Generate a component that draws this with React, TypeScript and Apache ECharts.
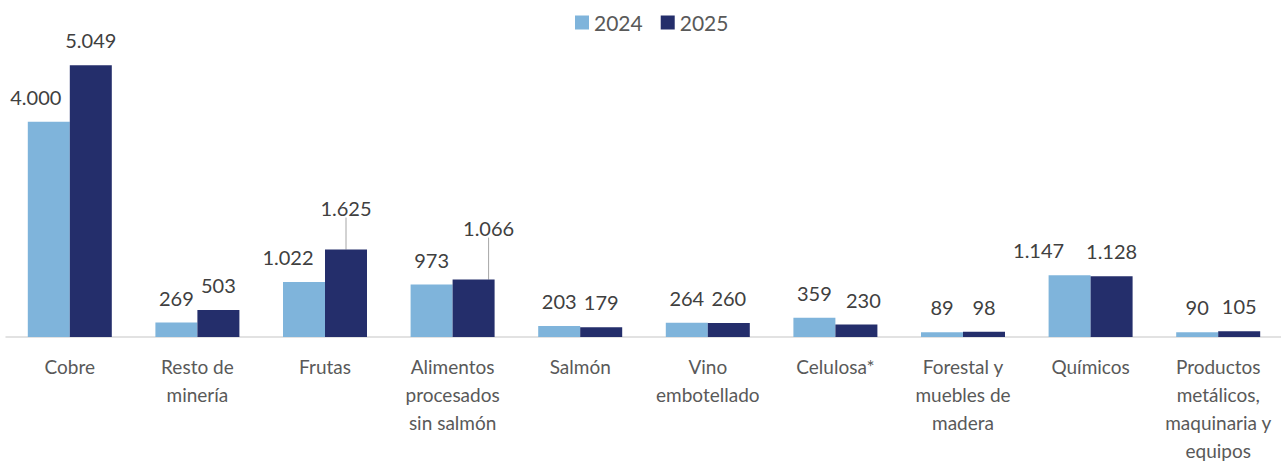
import React, { useEffect, useRef } from "react";
import * as echarts from "echarts";

const categories = [
  "Cobre",
  "Resto de\nminería",
  "Frutas",
  "Alimentos\nprocesados\nsin salmón",
  "Salmón",
  "Vino\nembotellado",
  "Celulosa*",
  "Forestal y\nmuebles de\nmadera",
  "Químicos",
  "Productos\nmetálicos,\nmaquinaria y\nequipos",
];
const values2024 = [4000, 269, 1022, 973, 203, 264, 359, 89, 1147, 90];
const values2025 = [5049, 503, 1625, 1066, 179, 260, 230, 98, 1128, 105];
const seriesNames = ["2024", "2025"];

// label placement tweaks (pixels) per series / category index
const labelShift: Record<number, Record<number, [number, number]>> = {
  0: { 0: [-13, 0], 2: [-16, 0], 8: [-31, 0] },
  1: { 2: [0, -17], 3: [15, -27], 6: [7, 0] },
};
const leaderLines: Record<number, number[]> = { 0: [], 1: [2, 3] };

const fmt = (v: number) => String(v).replace(/\B(?=(\d{3})+(?!\d))/g, ".");

const COLORS = ["#7FB4DB", "#242E6B"];
const FONT = "Lato";

export default function App() {
  const ref = useRef<HTMLDivElement>(null);
  useEffect(() => {
    document.body.style.margin = "0";
    const chart = echarts.init(ref.current!, null, { renderer: "svg" });
    const mk = (idx: number, vals: number[]) => ({
      name: seriesNames[idx],
      type: "bar",
      barWidth: 42,
      barGap: "0%",
      itemStyle: { color: COLORS[idx] },
      data: vals.map((v, i) => ({
        value: v,
        labelLine: {
          show: leaderLines[idx].includes(i),
          lineStyle: { color: "#A6A6A6", width: 1 },
        },
      })),
      label: {
        show: true,
        position: "top",
        distance: 15,
        fontFamily: FONT,
        fontSize: 20,
        color: "#404040",
        formatter: (p: any) => fmt(p.value),
      },
      labelLayout: (p: any) => {
        const s = labelShift[p.seriesIndex] && labelShift[p.seriesIndex][p.dataIndex];
        return s ? { dx: s[0], dy: s[1] } : {};
      },
    });
    chart.setOption({
      animation: false,
      legend: {
        top: 12,
        left: 575,
        padding: 0,
        itemWidth: 14,
        itemHeight: 14,
        itemGap: 18,
        icon: "rect",
        textStyle: { fontFamily: FONT, fontSize: 21, color: "#595959" },
        data: seriesNames,
      },
      grid: {
        left: 6,
        width: 1276,
        top: 14,
        bottom: 129,
        containLabel: false,
        outerBoundsMode: "none",
      },
      xAxis: {
        type: "category",
        data: categories,
        axisLine: { lineStyle: { color: "#D9D9D9", width: 1.5 } },
        axisTick: { show: false },
        axisLabel: {
          interval: 0,
          margin: 15,
          fontFamily: FONT,
          fontSize: 19,
          lineHeight: 28,
          color: "#595959",
          align: "center",
        },
      },
      yAxis: {
        type: "value",
        min: 0,
        max: 6000,
        show: false,
        splitLine: { show: false },
      },
      series: [mk(0, values2024), mk(1, values2025)],
    });
    return () => chart.dispose();
  }, []);
  return <div ref={ref} style={{ width: 1281, height: 466 }} />;
}
